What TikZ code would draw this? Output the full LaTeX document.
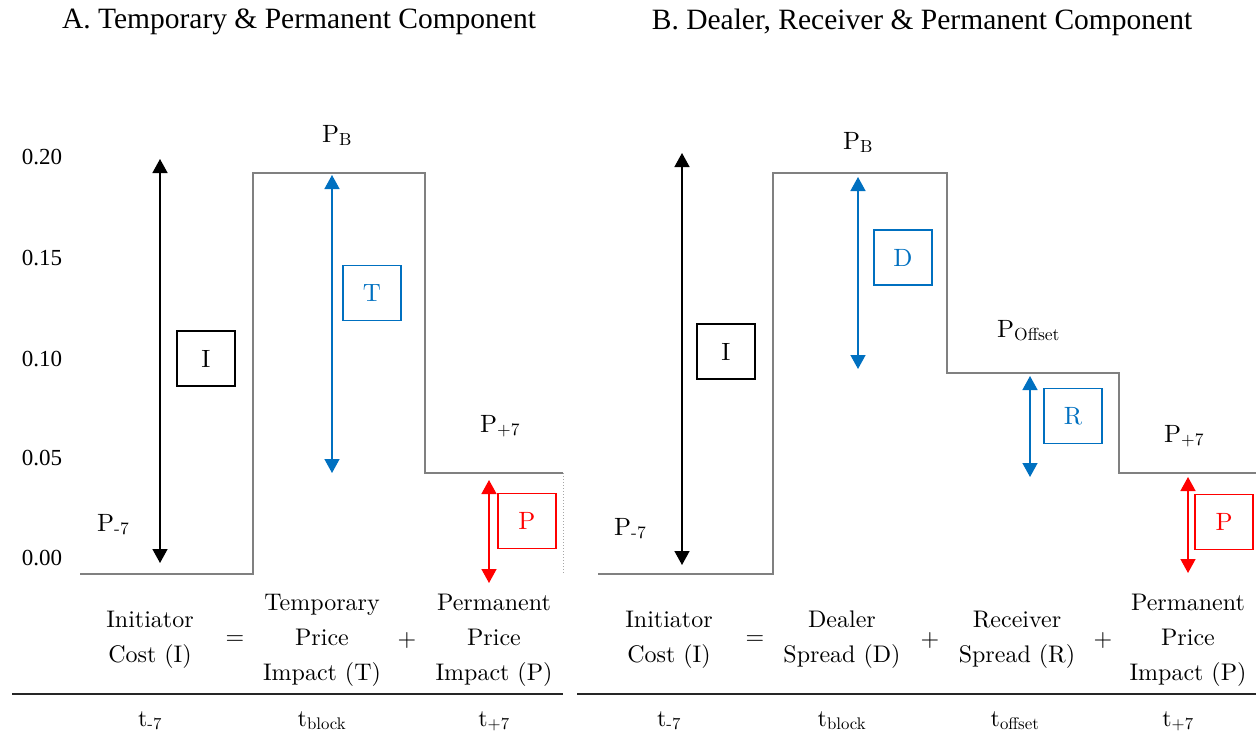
\documentclass[tikz,border=0pt]{standalone}
\usepackage{fontspec}
\setmainfont{lmroman10-regular.otf}
\newfontfamily\titlefont{Liberation Serif}
\usetikzlibrary{arrows.meta}
\definecolor{mblue}{HTML}{0070C0}
\definecolor{mred}{HTML}{FF0000}
\definecolor{stepgray}{HTML}{808080}
\tikzset{
  steps/.style={draw=stepgray, line width=2pt},
  dbl/.style={line width=1.5pt, {Triangle[length=14pt,width=15pt]}-{Triangle[length=14pt,width=15pt]}},
  lab/.style={font=\fontsize{24}{35}\selectfont, inner sep=0pt, align=center},
  plab/.style={font=\fontsize{25}{28}\selectfont, inner sep=0pt, anchor=base west},
  tlab/.style={font=\fontsize{24}{28}\selectfont, inner sep=0pt, anchor=base},
  letterbox/.style={draw, line width=1.5pt, minimum width=58pt, minimum height=55pt, inner sep=0pt, font=\fontsize{25}{28}\selectfont},
  ticklab/.style={font=\titlefont\fontsize{23}{25}\selectfont, inner sep=0pt},
  ttl/.style={font=\titlefont\fontsize{29.5}{34}\selectfont, inner sep=0pt},
  rule/.style={draw=black!85, line width=1.5pt}
}
\begin{document}
\begin{tikzpicture}[x=1pt,y=-1pt]
\useasboundingbox (0,0) rectangle (1256,736);
% titles
\node[ttl] (titleA) at (299,22) {A. Temporary \& Permanent Component};
\node[ttl] (titleB) at (922,22) {B. Dealer, Receiver \& Permanent Component};
% y-axis labels
\node[ticklab] (y20) at (42,157) {0.20};
\node[ticklab] (y15) at (42,258) {0.15};
\node[ticklab] (y10) at (42,359) {0.10};
\node[ticklab] (y05) at (42,458) {0.05};
\node[ticklab] (y00) at (42,558) {0.00};
% ===== Panel A =====
\draw[steps] (80,574) -- (253,574) -- (253,173) -- (425,173) -- (425,473) -- (563,473);
\draw[stepgray!70, dotted, line width=1pt] (563,473) -- (563,574);
\node[plab] (PmA) at (97,531) {P\textsubscript{-7}};
\node[plab] (PBA) at (322,142) {P\textsubscript{B}};
\node[plab] (PpA) at (480,432) {P\textsubscript{+7}};
\coordinate (IAt) at (160,159); \coordinate (IAb) at (160,563);
\coordinate (TAt) at (332,175); \coordinate (TAb) at (332,473);
\coordinate (PAt) at (489,480); \coordinate (PAb) at (489,583);
\draw[dbl] (IAt) -- (IAb);
\draw[dbl, mblue] (TAt) -- (TAb);
\draw[dbl, mred] (PAt) -- (PAb);
\node[letterbox] (boxIA) at (206,358.5) {I};
\node[letterbox, draw=mblue, text=mblue] (boxTA) at (372,293) {T};
\node[letterbox, draw=mred, text=mred] (boxPA) at (527,521) {P};
% bottom A
\node[lab] (eqA1) at (150,640) {Initiator\\Cost (I)};
\node[lab] (eqA2) at (235,640) {=};
\node[lab] (eqA3) at (322,640) {Temporary\\Price\\Impact (T)};
\node[lab] (eqA4) at (407,640) {+};
\node[lab] (eqA5) at (494,640) {Permanent\\Price\\Impact (P)};
\coordinate (ruleAl) at (12,694); \coordinate (ruleAr) at (563,694);
\draw[rule] (ruleAl) -- (ruleAr);
\node[tlab] (tA1) at (150,726) {t\textsubscript{-7}};
\node[tlab] (tA2) at (322,726) {t\textsubscript{block}};
\node[tlab] (tA3) at (494,726) {t\textsubscript{+7}};
% ===== Panel B =====
\draw[steps] (598,574) -- (773,574) -- (773,173) -- (947,173) -- (947,373) -- (1119,373) -- (1119,473) -- (1256,473);
\node[plab] (PmB) at (614,535) {P\textsubscript{-7}};
\node[plab] (PBB) at (843,149) {P\textsubscript{B}};
\node[plab] (POB) at (997,337) {P\textsubscript{Offset}};
\node[plab] (PpB) at (1164,442) {P\textsubscript{+7}};
\coordinate (IBt) at (682,153); \coordinate (IBb) at (682,565);
\coordinate (DBt) at (858,177); \coordinate (DBb) at (858,369);
\coordinate (RBt) at (1030,376); \coordinate (RBb) at (1030,477);
\coordinate (PBt) at (1188,477); \coordinate (PBb) at (1188,573);
\draw[dbl] (IBt) -- (IBb);
\draw[dbl, mblue] (DBt) -- (DBb);
\draw[dbl, mblue] (RBt) -- (RBb);
\draw[dbl, mred] (PBt) -- (PBb);
\node[letterbox] (boxIB) at (726,351.5) {I};
\node[letterbox, draw=mblue, text=mblue] (boxDB) at (903,257.5) {D};
\node[letterbox, draw=mblue, text=mblue] (boxRB) at (1073,416) {R};
\node[letterbox, draw=mred, text=mred] (boxPB) at (1224,522) {P};
% bottom B
\node[lab] (eqB1) at (669,640) {Initiator\\Cost (I)};
\node[lab] (eqB2) at (755,640) {=};
\node[lab] (eqB3) at (842,640) {Dealer\\Spread (D)};
\node[lab] (eqB4) at (930,640) {+};
\node[lab] (eqB5) at (1017,640) {Receiver\\Spread (R)};
\node[lab] (eqB6) at (1103,640) {+};
\node[lab] (eqB7) at (1188,640) {Permanent\\Price\\Impact (P)};
\coordinate (ruleBl) at (577,694); \coordinate (ruleBr) at (1256,694);
\draw[rule] (ruleBl) -- (ruleBr);
\node[tlab] (tB1) at (669,726) {t\textsubscript{-7}};
\node[tlab] (tB2) at (842,726) {t\textsubscript{block}};
\node[tlab] (tB3) at (1015,726) {t\textsubscript{offset}};
\node[tlab] (tB4) at (1178,726) {t\textsubscript{+7}};
\end{tikzpicture}
\end{document}
